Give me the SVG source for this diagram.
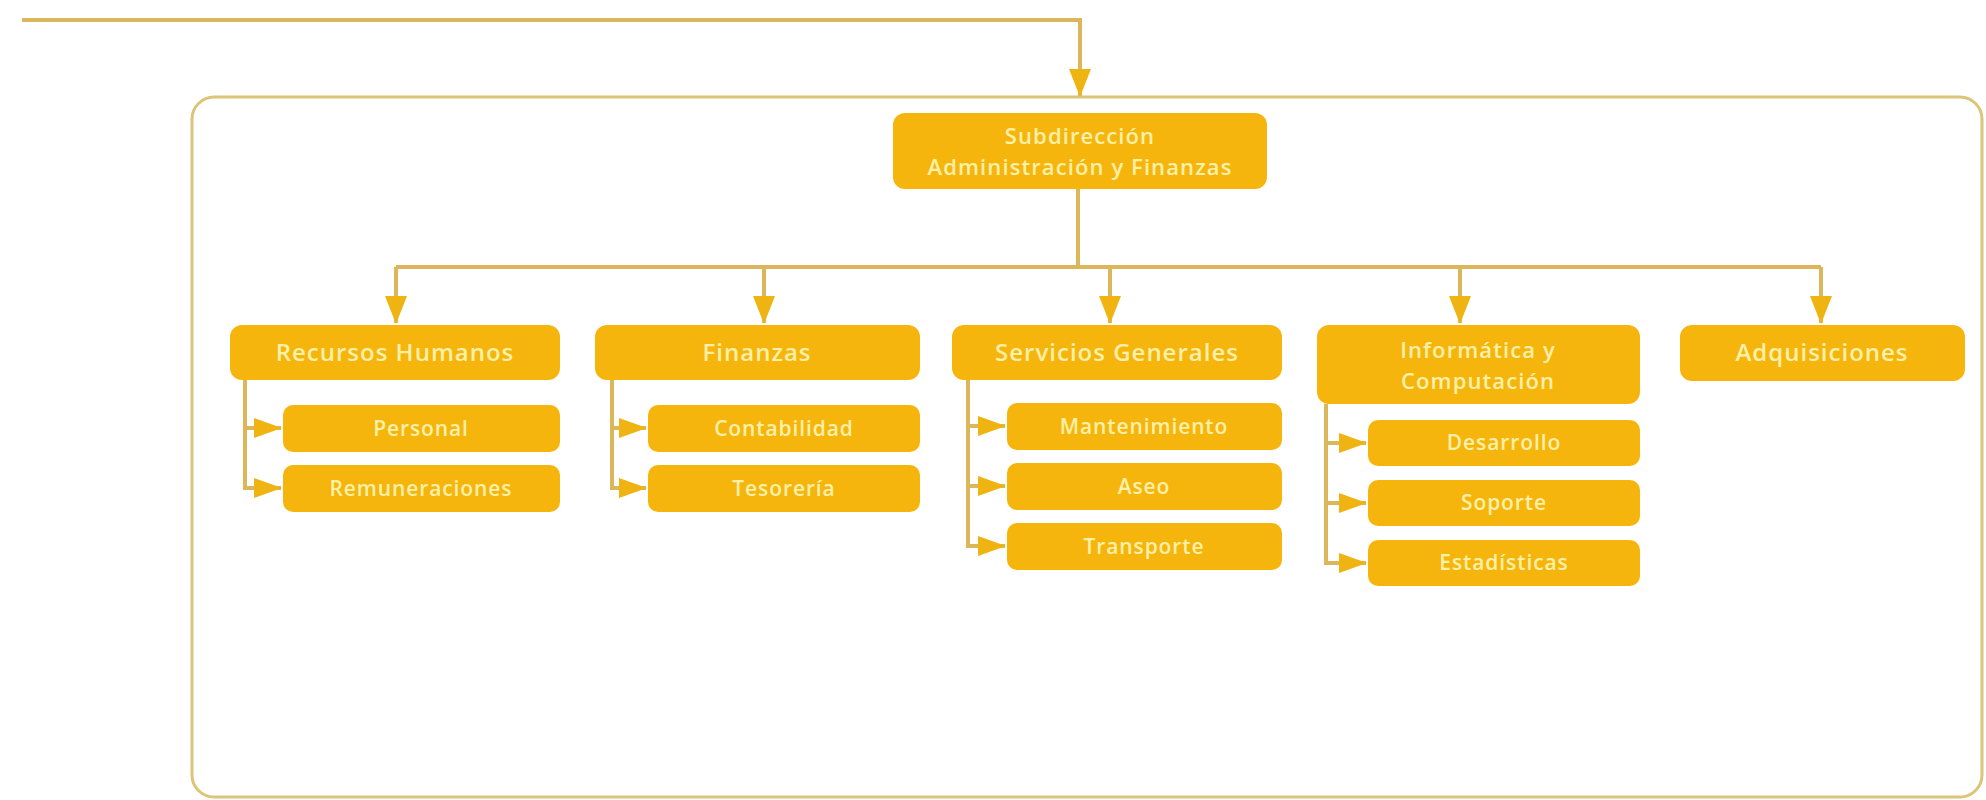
<svg xmlns="http://www.w3.org/2000/svg" width="1986" height="800" viewBox="0 0 1986 800">
<style>
.box{fill:#f6b50c;}
.t{font-family:"Open Sans","Noto Sans","DejaVu Sans",sans-serif;fill:#fdf0a8;text-anchor:middle;font-weight:600;}
.l2{font-size:24px;letter-spacing:1px;}
.l2b{font-size:22px;letter-spacing:1.1px;}
.l3{font-size:21px;letter-spacing:0.9px;}
.c{fill:none;stroke:#dbb65a;stroke-width:4;}
</style>
<defs>
<marker id="ah" viewBox="0 0 28 22" refX="27" refY="11" markerWidth="28" markerHeight="22" markerUnits="userSpaceOnUse" orient="auto">
<path d="M0,0 L28,11 L0,22 z" fill="#f0b412"/>
</marker>
<marker id="ahs" viewBox="0 0 28 20" refX="27" refY="10" markerWidth="28" markerHeight="20" markerUnits="userSpaceOnUse" orient="auto">
<path d="M0,0 L28,10 L0,20 z" fill="#f0b412"/>
</marker>
</defs>
<rect width="1986" height="800" fill="#ffffff"/>
<rect id="container" x="192" y="97" width="1790" height="700" rx="22" fill="none" stroke="#dcc478" stroke-width="3"/>
<g id="connectors">
<path class="c" d="M22,20 H1080 V96" marker-end="url(#ah)"/>
<path class="c" d="M1078,189 V267"/>
<path class="c" d="M396,267 H1821"/>
<path class="c" d="M396,267 V323" marker-end="url(#ah)"/>
<path class="c" d="M764,267 V323" marker-end="url(#ah)"/>
<path class="c" d="M1110,267 V323" marker-end="url(#ah)"/>
<path class="c" d="M1460,267 V323" marker-end="url(#ah)"/>
<path class="c" d="M1821,267 V323" marker-end="url(#ah)"/>
<path class="c" d="M245,380 V488 H281" marker-end="url(#ahs)"/>
<path class="c" d="M245,428 H281" marker-end="url(#ahs)"/>
<path class="c" d="M612,380 V488 H646" marker-end="url(#ahs)"/>
<path class="c" d="M612,428 H646" marker-end="url(#ahs)"/>
<path class="c" d="M968,380 V546 H1005" marker-end="url(#ahs)"/>
<path class="c" d="M968,426 H1005" marker-end="url(#ahs)"/>
<path class="c" d="M968,486 H1005" marker-end="url(#ahs)"/>
<path class="c" d="M1326,404 V563 H1366" marker-end="url(#ahs)"/>
<path class="c" d="M1326,443 H1366" marker-end="url(#ahs)"/>
<path class="c" d="M1326,503 H1366" marker-end="url(#ahs)"/>
</g>
<g id="subdireccion"><rect class="box" x="893" y="113" width="374" height="76" rx="12"/>
<text class="t l2b" x="1080" y="144">Subdirección</text>
<text class="t l2b" x="1080" y="175">Administración y Finanzas</text></g>
<g id="rrhh"><rect class="box" x="230" y="325" width="330" height="55" rx="12"/>
<text class="t l2" x="395" y="361">Recursos Humanos</text></g>
<g id="personal"><rect class="box" x="283" y="405" width="277" height="47" rx="10"/>
<text class="t l3" x="421" y="436">Personal</text></g>
<g id="remuneraciones"><rect class="box" x="283" y="465" width="277" height="47" rx="10"/>
<text class="t l3" x="421" y="496">Remuneraciones</text></g>
<g id="finanzas"><rect class="box" x="595" y="325" width="325" height="55" rx="12"/>
<text class="t l2" x="757" y="361">Finanzas</text></g>
<g id="contabilidad"><rect class="box" x="648" y="405" width="272" height="47" rx="10"/>
<text class="t l3" x="784" y="436">Contabilidad</text></g>
<g id="tesoreria"><rect class="box" x="648" y="465" width="272" height="47" rx="10"/>
<text class="t l3" x="784" y="496">Tesorería</text></g>
<g id="servicios"><rect class="box" x="952" y="325" width="330" height="55" rx="12"/>
<text class="t l2" x="1117" y="361">Servicios Generales</text></g>
<g id="mantenimiento"><rect class="box" x="1007" y="403" width="275" height="47" rx="10"/>
<text class="t l3" x="1144" y="434">Mantenimiento</text></g>
<g id="aseo"><rect class="box" x="1007" y="463" width="275" height="47" rx="10"/>
<text class="t l3" x="1144" y="494">Aseo</text></g>
<g id="transporte"><rect class="box" x="1007" y="523" width="275" height="47" rx="10"/>
<text class="t l3" x="1144" y="554">Transporte</text></g>
<g id="informatica"><rect class="box" x="1317" y="325" width="323" height="79" rx="12"/>
<text class="t l2b" x="1478" y="358">Informática y</text>
<text class="t l2b" x="1478" y="389">Computación</text></g>
<g id="desarrollo"><rect class="box" x="1368" y="420" width="272" height="46" rx="10"/>
<text class="t l3" x="1504" y="450">Desarrollo</text></g>
<g id="soporte"><rect class="box" x="1368" y="480" width="272" height="46" rx="10"/>
<text class="t l3" x="1504" y="510">Soporte</text></g>
<g id="estadisticas"><rect class="box" x="1368" y="540" width="272" height="46" rx="10"/>
<text class="t l3" x="1504" y="570">Estadísticas</text></g>
<g id="adquisiciones"><rect class="box" x="1680" y="325" width="285" height="56" rx="12"/>
<text class="t l2" x="1822" y="361">Adquisiciones</text></g>
</svg>
